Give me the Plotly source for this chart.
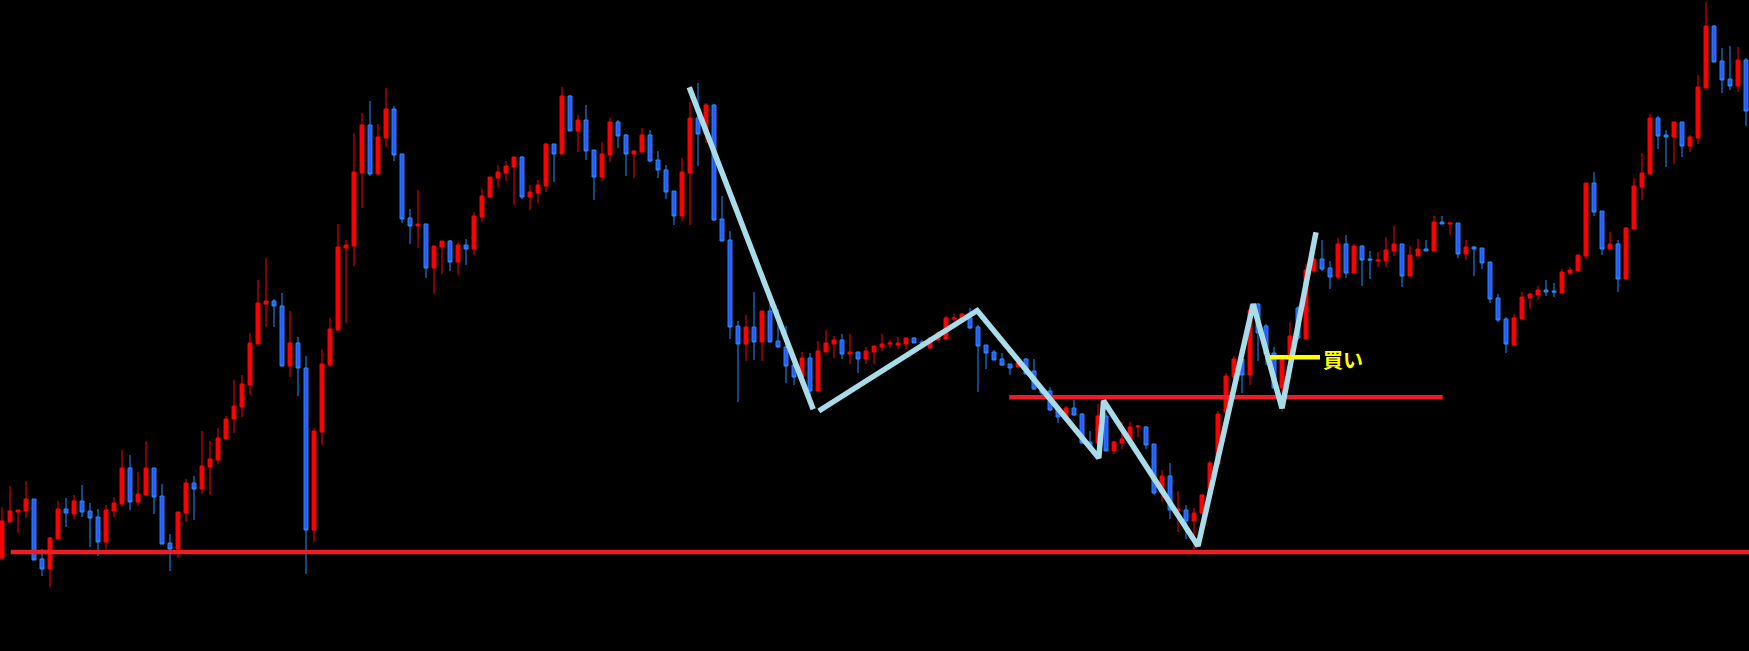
import plotly.graph_objects as go

# ---- candle data (index, open, high, low, close) in chart price units ----
opens = [93,129,139,140,152,92,82,112,142,137,150,140,134,109,140,147,183,149,156,183,
         155,108,102,138,168,162,184,191,212,232,244,266,307,347,350,345,285,308,283,121,
         219,286,321,403,405,478,526,477,513,542,497,433,425,427,383,404,410,389,406,402,
         434,454,473,478,484,494,454,458,465,507,497,555,520,531,501,474,496,529,516,497,
         499,516,491,481,460,435,478,533,517,546,432,411,325,307,324,309,340,310,304,286,
         274,293,260,299,307,311,297,299,292,299,304,307,306,307,313,309,303,311,312,332,
         331,333,324,306,299,292,287,284,292,280,262,260,243,234,243,237,209,208,235,200,
         208,211,224,224,207,158,175,140,141,130,138,156,187,239,274,292,276,347,325,298,
         263,291,343,312,380,392,383,374,407,378,405,392,390,390,400,407,375,395,402,400,
         429,427,428,397,404,403,389,353,332,306,332,353,356,361,360,358,378,380,395,468,
         440,402,407,372,422,464,477,533,516,514,529,505,513,563,625,590,572,565,591]
highs = [144,165,141,170,152,102,114,150,153,156,166,148,142,146,154,201,196,179,210,183,
         167,117,139,172,175,220,210,223,235,271,276,318,371,393,352,358,340,314,295,223,
         302,333,427,411,518,538,550,527,563,545,497,442,461,427,405,410,411,409,412,439,
         462,474,486,490,494,495,466,471,508,507,564,556,536,546,501,509,533,531,517,501,
         523,521,500,486,460,493,549,568,548,547,455,420,330,336,359,340,348,342,325,286,
         299,298,310,321,315,317,317,299,304,305,317,311,314,313,314,311,314,320,335,337,
         338,343,326,306,301,298,287,290,293,292,264,264,245,245,251,238,220,247,238,210,
         229,229,226,225,207,181,188,160,146,143,157,190,240,278,295,293,347,348,327,304,
         294,329,345,387,394,411,390,413,416,407,406,400,399,414,425,407,405,412,411,435,
         435,428,428,411,405,403,389,357,334,337,359,358,365,371,368,382,384,396,468,479,
         440,419,411,424,473,498,537,535,521,529,529,516,576,649,626,603,605,604,593]
lows = [91,129,118,133,91,75,64,112,124,132,134,104,95,102,134,145,141,145,155,137,
        107,80,93,129,131,157,156,187,212,218,234,256,307,324,324,285,274,255,77,109,
        206,284,320,328,385,443,475,477,504,490,428,407,403,373,357,377,380,376,386,396,
        429,453,464,470,446,452,441,448,459,469,497,520,499,491,451,470,489,503,475,473,
        498,489,473,452,426,430,426,485,508,430,410,312,249,290,291,290,309,303,268,266,
        274,256,259,299,293,292,287,278,287,287,300,303,302,302,308,307,303,310,311,330,
        330,322,259,282,291,285,276,284,277,261,256,240,228,233,235,207,200,205,200,197,
        202,211,214,202,156,149,132,119,112,102,137,155,185,237,273,258,266,290,286,262,
        239,289,311,312,378,380,362,372,373,378,365,372,384,384,395,364,375,395,400,400,
        427,416,393,391,375,382,348,329,298,305,332,342,351,355,354,358,376,380,392,435,
        396,402,359,372,422,451,477,502,484,487,494,499,507,563,589,558,561,559,525]
closes = [130,140,141,152,91,82,113,142,138,150,139,133,109,141,148,183,149,157,183,154,
          107,102,139,168,162,185,192,213,232,245,267,308,348,350,345,285,308,283,121,220,
          287,322,404,406,479,526,477,514,542,496,432,425,427,383,405,410,389,406,402,435,
          455,474,479,485,494,454,459,466,507,497,555,520,531,500,474,497,529,515,497,500,
          516,490,481,459,435,479,533,517,546,431,410,324,307,324,309,340,309,304,285,274,
          293,260,300,308,311,297,299,292,300,305,307,308,308,313,308,308,313,318,333,333,
          337,323,305,298,291,286,283,288,277,262,258,241,234,243,236,208,205,235,200,209,
          212,224,225,206,158,175,141,142,130,138,156,188,237,275,292,276,341,318,297,263,
          291,315,313,381,392,382,374,407,378,405,391,391,391,401,407,375,396,402,400,429,
          427,428,397,404,402,388,352,331,307,333,354,357,361,359,359,379,381,396,468,439,
          402,407,372,423,465,478,533,515,514,529,505,514,564,625,589,571,565,591,540]
idx = list(range(len(opens)))

# ---- drawn overlays (x in candle index units, y in price units) ----
support_x = [1.1, 218.5]
support_y = [99, 99]
neckline_x = [125.9, 180.1]
neckline_y = [253.8, 253.8]
zig_x = [85.9, 101.4, None, 102.1, 121.9, 137.1, 137.7, 149.5, 156.4, 160.0, 164.25]
zig_y = [563.7, 241.7, None, 240.0, 340.5, 193.0, 250.3, 105.0, 347.0, 242.7, 418.7]
buy_x = [158.5, 164.75]
buy_y = [293.7, 293.7]
buy_label = "買い"
buy_label_pos = (164.9, 292.0)

fig = go.Figure()
fig.add_trace(go.Candlestick(
    x=idx, open=opens, high=highs, low=lows, close=closes,
    increasing=dict(line=dict(color="#FF0000", width=1), fillcolor="#FF0000"),
    decreasing=dict(line=dict(color="#1E90FF", width=1), fillcolor="#3355FF"),
    whiskerwidth=0, hoverinfo="skip", showlegend=False,
))
fig.add_trace(go.Scatter(x=support_x, y=support_y, mode="lines",
                         line=dict(color="#EE1C25", width=4.5), showlegend=False, hoverinfo="skip"))
fig.add_trace(go.Scatter(x=neckline_x, y=neckline_y, mode="lines",
                         line=dict(color="#EE1C25", width=4.5), showlegend=False, hoverinfo="skip"))
fig.add_trace(go.Scatter(x=zig_x, y=zig_y, mode="lines", connectgaps=False,
                         line=dict(color="#A8DCE8", width=5.5), showlegend=False, hoverinfo="skip"))
fig.add_trace(go.Scatter(x=buy_x, y=buy_y, mode="lines",
                         line=dict(color="#FFFF00", width=4.5), showlegend=False, hoverinfo="skip"))
fig.add_annotation(x=buy_label_pos[0], y=buy_label_pos[1], text="<b>" + buy_label + "</b>",
                   showarrow=False, xanchor="left", yanchor="middle",
                   font=dict(family="Noto Sans CJK JP", size=20, color="#FFFF00"))

fig.update_layout(
    width=1749, height=651,
    margin=dict(l=0, r=0, t=0, b=0),
    paper_bgcolor="#000000", plot_bgcolor="#000000",
    xaxis=dict(range=[-0.25, 218.375], visible=False, showgrid=False,
               rangeslider=dict(visible=False), fixedrange=True),
    yaxis=dict(range=[0, 651], visible=False, showgrid=False, fixedrange=True),
    boxgap=0.3,
)

fig.write_html("out.html", config={"displayModeBar": False},
               post_script="document.body.style.margin='0';document.body.style.background='#000';")
